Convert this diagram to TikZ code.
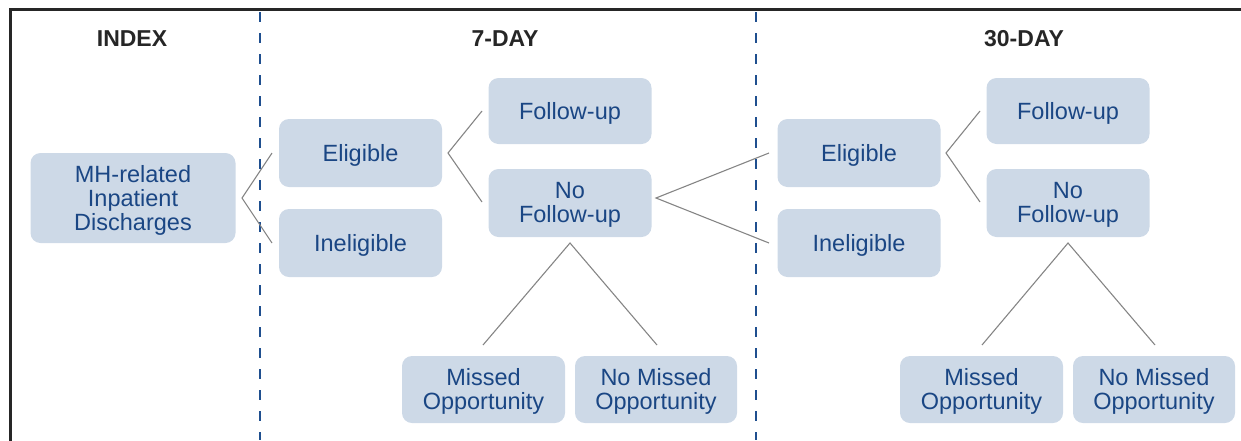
\documentclass[tikz,border=0pt]{standalone}
\usepackage{fontspec}
\setmainfont{Liberation Sans}
\definecolor{boxfill}{HTML}{CDD9E7}
\definecolor{boxtext}{HTML}{1A4684}
\definecolor{dashblue}{HTML}{1F4F8F}
\definecolor{forkgray}{HTML}{858585}
\definecolor{framegray}{HTML}{262626}
\begin{document}
\begin{tikzpicture}[x=1pt,y=-1pt,
  boxtxt/.style={inner sep=0pt, align=center, text=boxtext,
    font=\fontsize{23.5}{24}\selectfont},
  box/.style={draw=none, fill=boxfill, rounded corners=10pt, inner sep=0pt,
    minimum width=163pt, minimum height=68pt,
    label={[boxtxt, yshift=-2pt]center:{#1}}},
  title/.style={anchor=base, text=framegray, font=\bfseries\fontsize{23}{24}\selectfont},
  fork/.style={draw=forkgray, line width=1.1pt},
  divider/.style={draw=dashblue, line width=2.2pt, dash pattern=on 10pt off 11pt}]
\useasboundingbox (0,0) rectangle (1241,440);
% frame
\draw[line width=3pt, framegray] (10,441) -- (10,9) -- (1242,9);
% dividers
\coordinate (d1t) at (260,12); \coordinate (d1b) at (260,440);
\coordinate (d2t) at (756,12); \coordinate (d2b) at (756,440);
\draw[divider] (d1t) -- (d1b);
\draw[divider] (d2t) -- (d2b);
% titles
\node[title] (tIndex) at (132,46) {INDEX};
\node[title] (t7) at (505,46) {7-DAY};
\node[title] (t30) at (1024,46) {30-DAY};
% boxes
\node[box={MH-related\\Inpatient\\Discharges}, minimum width=205pt, minimum height=90pt] (MH) at (133,198) {};
\node[box={Eligible}] (E7) at (360.5,153) {};
\node[box={Ineligible}] (I7) at (360.5,243) {};
\node[box={Follow-up}, minimum height=66pt] (F7) at (570,111) {};
\node[box={No\\Follow-up}] (N7) at (570,203) {};
\node[box={Missed\\Opportunity}, minimum height=67pt] (M7) at (483.5,389.5) {};
\node[box={No Missed\\Opportunity}, minimum width=162pt, minimum height=67pt] (NM7) at (656,389.5) {};
\node[box={Eligible}] (E30) at (859,153) {};
\node[box={Ineligible}] (I30) at (859,243) {};
\node[box={Follow-up}, minimum height=66pt] (F30) at (1068,111) {};
\node[box={No\\Follow-up}] (N30) at (1068,203) {};
\node[box={Missed\\Opportunity}, minimum height=67pt] (M30) at (981.5,389.5) {};
\node[box={No Missed\\Opportunity}, minimum width=162pt, minimum height=67pt] (NM30) at (1154,389.5) {};
% fork points
\coordinate (aMH) at (242,198); \coordinate (aMHu) at (272,153); \coordinate (aMHd) at (272,243);
\coordinate (aE7) at (448,153); \coordinate (aE7u) at (482,111); \coordinate (aE7d) at (482,202);
\coordinate (aN7) at (656,198); \coordinate (aN7u) at (769,153); \coordinate (aN7d) at (769,243);
\coordinate (bN7) at (570,243); \coordinate (bN7l) at (483,345); \coordinate (bN7r) at (657,345);
\coordinate (aE30) at (946,153); \coordinate (aE30u) at (980,111); \coordinate (aE30d) at (980,202);
\coordinate (bN30) at (1068,243); \coordinate (bN30l) at (982,345); \coordinate (bN30r) at (1155,345);
\draw[fork] (aMHu) -- (aMH) -- (aMHd);
\draw[fork] (aE7u) -- (aE7) -- (aE7d);
\draw[fork] (aN7u) -- (aN7) -- (aN7d);
\draw[fork] (bN7l) -- (bN7) -- (bN7r);
\draw[fork] (aE30u) -- (aE30) -- (aE30d);
\draw[fork] (bN30l) -- (bN30) -- (bN30r);
\end{tikzpicture}
\end{document}
